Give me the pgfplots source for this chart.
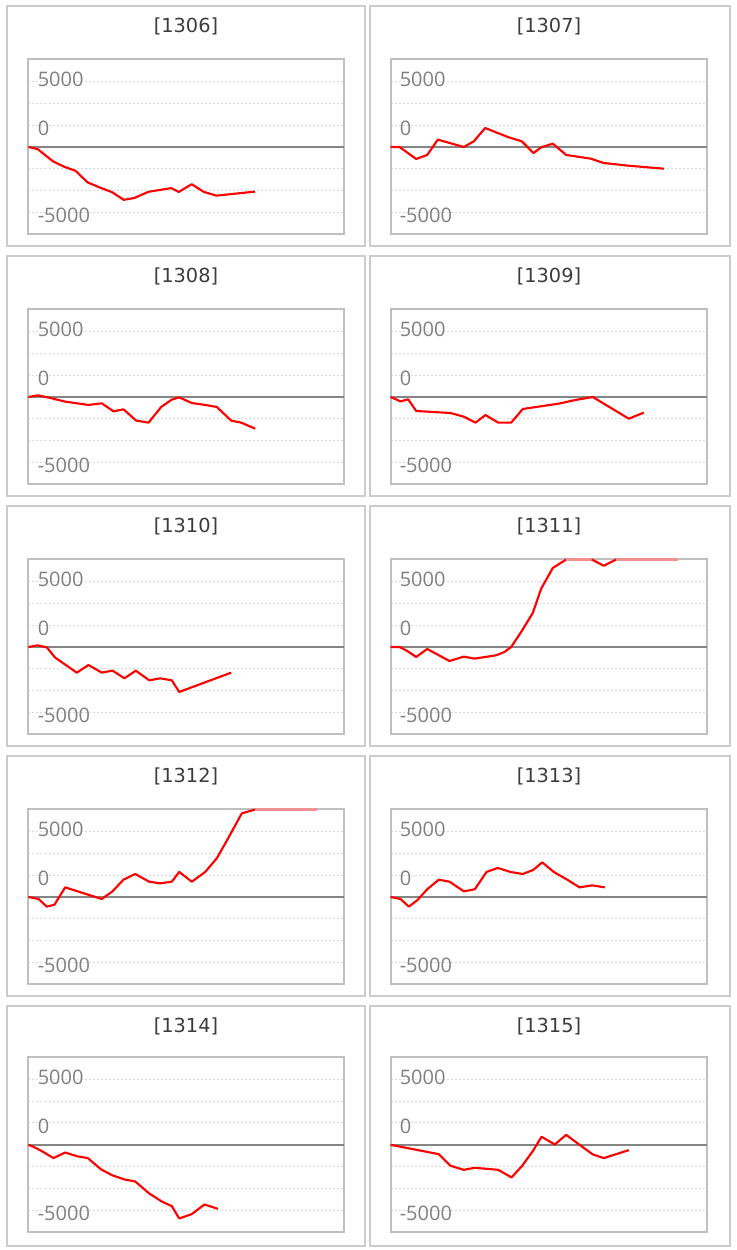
\documentclass[border=0pt]{standalone}
\usepackage{fontspec}
\usepackage{pgfplots}
\pgfplotsset{compat=1.18}
\setmainfont{DejaVu Sans}
\newfontfamily\tickfont{Open Sans}
\definecolor{boxgray}{HTML}{CCCCCC}
\definecolor{axisgray}{HTML}{BFBFBF}
\definecolor{gridgray}{HTML}{D9D9D9}
\definecolor{zerogray}{HTML}{858585}
\definecolor{labelgray}{HTML}{808080}
\definecolor{titlecol}{HTML}{3C3C3C}
\definecolor{clippink}{HTML}{F09090}
\pgfplotsset{
  panel/.style={
    anchor=south west, scale only axis, height=131.25pt,
    xmin=0, ymin=-10000, ymax=10000,
    xtick=\empty, ytick={-7500,-5000,-2500,2500,5000,7500}, yticklabels={},
    scaled y ticks=false,
    major tick length=0pt,
    ymajorgrids, grid style={gridgray, line width=0.75pt, dash pattern=on 1.5pt off 1.5pt},
    axis line style={axisgray, line width=1.5pt},
    clip=false,
  },
  leftpanel/.style={panel, width=236.25pt, xmax=315},
  rightpanel/.style={panel, width=237pt, xmax=316},
  series/.style={red, line width=1.6pt, line join=round, no markers},
  clipped/.style={clippink, line width=1.6pt, no markers},
}
\newcommand\zeroline[1]{\addplot[zerogray, line width=1.3pt, no markers] coordinates {(0,0) (#1,0)};}
\newcommand\ylabs{%
  \node[anchor=west, inner sep=0pt, xshift=6.75pt, text=labelgray, font=\tickfont\fontsize{15pt}{15pt}\selectfont] at (rel axis cs:0,0.884) {5000};
  \node[anchor=west, inner sep=0pt, xshift=6.75pt, text=labelgray, font=\tickfont\fontsize{15pt}{15pt}\selectfont] at (rel axis cs:0,0.607) {0};
  \node[anchor=west, inner sep=0pt, xshift=6.75pt, text=labelgray, font=\tickfont\fontsize{15pt}{15pt}\selectfont] at (rel axis cs:0,0.110) {-5000};
}
\begin{document}
\begin{tikzpicture}[x=0.75pt, y=0.75pt]
\useasboundingbox (0,0) rectangle (737,1250);
\fill[white] (0,0) rectangle (737,1250);
% panel frames and titles
\foreach \r in {0,1,2,3,4} {
  \draw[boxgray, line width=1.5pt] (7,{1244-250*\r}) rectangle (365,{1003.5-250*\r});
  \draw[boxgray, line width=1.5pt] (369.8,{1244-250*\r}) rectangle (729.8,{1003.5-250*\r});
}
\foreach \r/\a/\b in {0/1306/1307, 1/1308/1309, 2/1310/1311, 3/1312/1313, 4/1314/1315} {
  \node[text=titlecol, font=\fontsize{14.5pt}{14.5pt}\selectfont, inner sep=0pt] at (186,{1223.3-250*\r}) {[\a]};
  \node[text=titlecol, font=\fontsize{14.5pt}{14.5pt}\selectfont, inner sep=0pt] at (549,{1223.3-250*\r}) {[\b]};
}

% ---- 1306
\begin{axis}[leftpanel, at={(21.375pt,761.625pt)}]
\zeroline{315}
\addplot[series] coordinates {(0,0) (9.3,-250) (24.5,-1640) (36,-2270) (47,-2720) (59,-4040) (71.3,-4630) (83.5,-5160) (95.3,-6040) (105.8,-5830) (120,-5120) (142.8,-4700) (150.3,-5140) (163.2,-4250) (175.5,-5140) (188,-5560) (226.5,-5100)};
\ylabs
\end{axis}
% ---- 1307
\begin{axis}[rightpanel, at={(292.875pt,761.625pt)}]
\zeroline{316}
\addplot[series] coordinates {(0,0) (9,0) (25.7,-1370) (36.7,-910) (47.3,840) (73.3,0) (83.3,650) (94.7,2170) (117.3,1140) (131.3,650) (143,-690) (150.7,-40) (162.3,380) (175.7,-910) (200,-1330) (213.3,-1830) (237.3,-2130) (273.3,-2480)};
\ylabs
\end{axis}
% ---- 1308
\begin{axis}[leftpanel, at={(21.375pt,574.125pt)}]
\zeroline{315}
\addplot[series] coordinates {(0,0) (9.3,190) (21.7,-110) (36.7,-530) (60,-910) (73.3,-720) (85,-1640) (95,-1410) (107.7,-2700) (120,-2930) (132.7,-1140) (143.3,-300) (150.7,-40) (163.3,-690) (176.7,-910) (188.3,-1140) (202.7,-2700) (212.7,-2930) (226.7,-3620)};
\ylabs
\end{axis}
% ---- 1309
\begin{axis}[rightpanel, at={(292.875pt,574.125pt)}]
\zeroline{316}
\addplot[series] coordinates {(0,0) (10,-500) (17.7,-270) (25.7,-1600) (60,-1830) (73.3,-2250) (85,-2930) (95,-2060) (107.7,-2930) (120.7,-2930) (132.3,-1370) (168.3,-760) (185,-340) (202.3,0) (215,-880) (238.3,-2480) (253.3,-1790)};
\ylabs
\end{axis}
% ---- 1310
\begin{axis}[leftpanel, at={(21.375pt,386.625pt)}]
\zeroline{315}
\addplot[series] coordinates {(0,0) (9.3,190) (18.3,-40) (26.7,-1220) (48.3,-2930) (60,-2060) (73.3,-2930) (84,-2700) (96,-3580) (107.3,-2700) (120.7,-3810) (131.7,-3580) (143.3,-3810) (150.7,-5140) (202.7,-2930)};
\ylabs
\end{axis}
% ---- 1311
\begin{axis}[rightpanel, at={(292.875pt,386.625pt)}]
\zeroline{316}
\addplot[series] coordinates {(0,0) (9,0) (15.7,-380) (25.7,-1140) (36.7,-230) (47.3,-880) (59,-1600) (73.3,-1100) (84,-1330) (105.7,-950) (114,-570) (120.7,0) (131.3,1830) (142.3,3890) (150.7,6670) (162.3,9030) (175.7,10000)};
\addplot[clipped] coordinates {(175.7,10000) (201.3,10000)};
\addplot[series] coordinates {(201.3,10000) (213.3,9280) (225.7,10000)};
\addplot[clipped] coordinates {(225.7,10000) (287.3,10000)};
\ylabs
\end{axis}
% ---- 1312
\begin{axis}[leftpanel, at={(21.375pt,199.125pt)}]
\zeroline{315}
\addplot[series] coordinates {(0,0) (10,-230) (18.3,-1100) (26,-880) (36.7,1100) (73.3,-230) (84,650) (95,1980) (106.7,2630) (120.7,1750) (131.7,1560) (143.3,1750) (150.7,2860) (163.3,1750) (176.7,2860) (188.3,4420) (200,6780) (213.3,9560) (226.7,10000)};
\addplot[clipped] coordinates {(226.7,10000) (288.3,10000)};
\ylabs
\end{axis}
% ---- 1313
\begin{axis}[rightpanel, at={(292.875pt,199.125pt)}]
\zeroline{316}
\addplot[series] coordinates {(0,0) (10,-230) (18.3,-1100) (26.7,-380) (36.7,880) (48.3,1980) (59,1750) (73.3,650) (84.3,880) (96,2860) (107.3,3320) (120,2860) (132.3,2630) (142.7,3090) (151.7,3960) (163.3,2860) (176.7,1980) (189,1100) (201.7,1330) (214.3,1100)};
\ylabs
\end{axis}
% ---- 1314
\begin{axis}[leftpanel, at={(21.375pt,13.275pt)}]
\zeroline{315}
\addplot[series] coordinates {(0,0) (5,-230) (13.3,-720) (25,-1520) (36.7,-880) (48.3,-1300) (59.3,-1520) (72.7,-2820) (84,-3500) (96,-3960) (106.7,-4190) (120.7,-5560) (133.3,-6480) (143.3,-7010) (150.7,-8420) (163.3,-7920) (176,-6820) (189.3,-7320)};
\ylabs
\end{axis}
% ---- 1315
\begin{axis}[rightpanel, at={(292.875pt,13.275pt)}]
\zeroline{316}
\addplot[series] coordinates {(0,0) (48.3,-1070) (60,-2400) (73.3,-2860) (84.3,-2630) (107.7,-2860) (121,-3730) (131.7,-2400) (142.7,-650) (151,920) (164.3,40) (175.7,1140) (189,0) (202.3,-1100) (213.3,-1520) (238.3,-610)};
\ylabs
\end{axis}
\end{tikzpicture}
\end{document}
